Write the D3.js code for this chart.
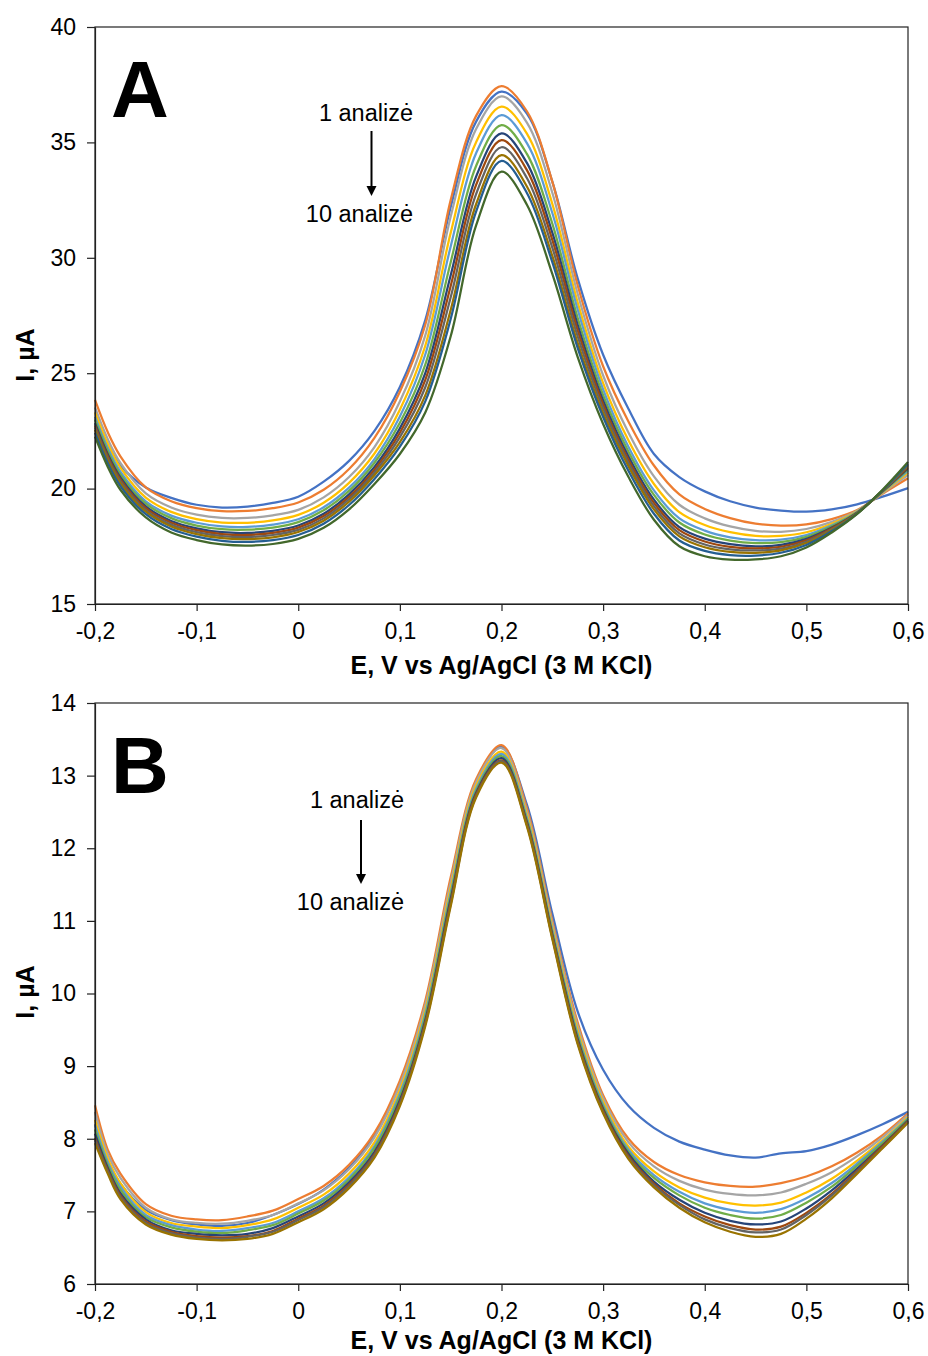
<!DOCTYPE html>
<html lang="lt">
<head>
<meta charset="utf-8">
<title>DPV analizės</title>
<script src="https://cdn.jsdelivr.net/npm/d3@7"></script>
<style>
  body { margin: 0; background: #fff; }
  text { font-family: "Liberation Sans", Arial, sans-serif; fill: #000; }
</style>
</head>
<body>
<svg id="chart" width="928" height="1356"></svg>
<script>
// potencialas, V
const potential = [-0.2, -0.1875, -0.175, -0.15, -0.125, -0.1, -0.075, -0.05, -0.025, 0,
  0.025, 0.05, 0.075, 0.1, 0.125, 0.15, 0.175, 0.2, 0.225, 0.25, 0.275, 0.3, 0.325,
  0.35, 0.375, 0.4, 0.425, 0.45, 0.475, 0.5, 0.525, 0.55, 0.575, 0.6];

// A: srove, uA
const a1  = [23.0, 21.9, 21.0, 20.05, 19.6, 19.3, 19.18, 19.22, 19.38, 19.65, 20.3, 21.2, 22.5, 24.4, 27.3, 32.2, 35.9, 37.2, 36.25, 33.3, 29.1, 25.8, 23.45, 21.5, 20.5, 19.88, 19.45, 19.18, 19.05, 19.0, 19.1, 19.32, 19.65, 20.02];
const a2  = [23.84, 22.45, 21.4, 20.05, 19.45, 19.15, 19.02, 19.03, 19.15, 19.4, 19.95, 20.85, 22.2, 24.2, 27.1, 32.5, 36.15, 37.44, 36.35, 33.3, 28.8, 25.3, 22.9, 21.0, 19.75, 19.12, 18.72, 18.48, 18.4, 18.45, 18.68, 19.07, 19.78, 20.45];
const a3  = [23.52, 22.15, 21.11, 19.79, 19.18, 18.87, 18.73, 18.73, 18.84, 19.08, 19.62, 20.5, 21.8, 23.77, 26.64, 31.79, 35.58, 36.99, 35.86, 32.82, 28.43, 24.9, 22.42, 20.53, 19.3, 18.71, 18.36, 18.17, 18.13, 18.25, 18.56, 19.04, 19.81, 20.59];
const a4  = [23.3, 21.94, 20.91, 19.61, 18.99, 18.68, 18.53, 18.52, 18.62, 18.86, 19.39, 20.25, 21.52, 23.42, 26.19, 31.08, 35.01, 36.55, 35.38, 32.34, 28.06, 24.57, 22.08, 20.2, 18.98, 18.42, 18.11, 17.95, 17.95, 18.11, 18.48, 19.01, 19.84, 20.69];
const a5  = [23.11, 21.76, 20.73, 19.45, 18.83, 18.52, 18.36, 18.34, 18.44, 18.67, 19.19, 20.04, 21.28, 23.12, 25.81, 30.49, 34.53, 36.18, 34.97, 31.94, 27.75, 24.3, 21.8, 19.92, 18.71, 18.18, 17.89, 17.77, 17.79, 17.99, 18.41, 18.99, 19.86, 20.77];
const a6  = [22.98, 21.64, 20.62, 19.35, 18.72, 18.4, 18.24, 18.22, 18.31, 18.55, 19.06, 19.9, 21.12, 22.85, 25.37, 29.81, 33.98, 35.75, 34.5, 31.48, 27.39, 24.05, 21.6, 19.73, 18.53, 18.01, 17.75, 17.64, 17.68, 17.91, 18.37, 18.98, 19.87, 20.83];
const a7  = [22.84, 21.5, 20.49, 19.23, 18.6, 18.28, 18.11, 18.08, 18.17, 18.4, 18.91, 19.75, 20.94, 22.61, 25.0, 29.24, 33.52, 35.39, 34.11, 31.09, 27.09, 23.82, 21.39, 19.52, 18.33, 17.83, 17.59, 17.5, 17.56, 17.82, 18.31, 18.96, 19.89, 20.89];
const a8  = [22.74, 21.41, 20.4, 19.15, 18.52, 18.2, 18.03, 17.99, 18.08, 18.31, 18.81, 19.64, 20.82, 22.42, 24.71, 28.78, 33.16, 35.1, 33.8, 30.78, 26.85, 23.65, 21.24, 19.38, 18.2, 17.71, 17.48, 17.41, 17.48, 17.76, 18.28, 18.95, 19.9, 20.93];
const a9  = [22.65, 21.32, 20.31, 19.07, 18.44, 18.11, 17.94, 17.9, 17.99, 18.21, 18.71, 19.54, 20.7, 22.23, 24.39, 28.29, 32.76, 34.79, 33.46, 30.44, 26.59, 23.47, 21.1, 19.24, 18.06, 17.58, 17.37, 17.32, 17.4, 17.7, 18.24, 18.94, 19.91, 20.98];
const a10 = [22.55, 21.23, 20.23, 19.0, 18.36, 18.03, 17.85, 17.81, 17.89, 18.12, 18.61, 19.43, 20.58, 22.01, 24.04, 27.74, 32.32, 34.45, 33.09, 30.08, 26.3, 23.27, 20.96, 19.1, 17.93, 17.46, 17.26, 17.22, 17.32, 17.64, 18.21, 18.93, 19.92, 21.02];
const a11 = [22.42, 21.11, 20.11, 18.89, 18.25, 17.92, 17.74, 17.69, 17.77, 17.99, 18.48, 19.29, 20.42, 21.82, 23.78, 27.35, 32.0, 34.2, 32.81, 29.81, 26.09, 23.1, 20.76, 18.91, 17.75, 17.3, 17.12, 17.1, 17.22, 17.56, 18.16, 18.92, 19.93, 21.07];
const a12 = [22.25, 20.95, 19.95, 18.75, 18.1, 17.77, 17.58, 17.53, 17.6, 17.82, 18.3, 19.1, 20.2, 21.5, 23.3, 26.6, 31.4, 33.73, 32.3, 29.3, 25.7, 22.8, 20.5, 18.65, 17.5, 17.07, 16.92, 16.93, 17.07, 17.45, 18.1, 18.9, 19.95, 21.15];

// B: srove, uA
const b1  = [8.2, 7.7, 7.38, 7.02, 6.88, 6.82, 6.8, 6.84, 6.95, 7.1, 7.3, 7.6, 8.05, 8.75, 9.85, 11.5, 12.9, 13.4, 12.6, 11.1, 9.75, 8.95, 8.45, 8.15, 7.96, 7.85, 7.77, 7.74, 7.8, 7.83, 7.92, 8.05, 8.2, 8.37];
const b2  = [8.46, 7.85, 7.52, 7.1, 6.94, 6.89, 6.88, 6.93, 7.01, 7.17, 7.35, 7.64, 8.08, 8.8, 9.9, 11.6, 12.95, 13.42, 12.55, 11.0, 9.6, 8.6, 8.0, 7.68, 7.5, 7.4, 7.35, 7.34, 7.39, 7.48, 7.62, 7.81, 8.05, 8.35];
const b3  = [8.37, 7.79, 7.46, 7.05, 6.89, 6.84, 6.83, 6.87, 6.95, 7.11, 7.29, 7.58, 8.02, 8.74, 9.84, 11.53, 12.91, 13.38, 12.5, 10.96, 9.55, 8.56, 7.95, 7.62, 7.42, 7.3, 7.24, 7.22, 7.26, 7.38, 7.54, 7.76, 8.02, 8.33];
const b4  = [8.26, 7.73, 7.39, 6.99, 6.84, 6.79, 6.77, 6.81, 6.89, 7.05, 7.23, 7.52, 7.95, 8.67, 9.77, 11.45, 12.86, 13.33, 12.46, 10.91, 9.49, 8.51, 7.89, 7.55, 7.33, 7.19, 7.11, 7.08, 7.12, 7.26, 7.45, 7.7, 7.98, 8.3];
const b5  = [8.19, 7.68, 7.34, 6.95, 6.81, 6.75, 6.73, 6.77, 6.84, 7.0, 7.18, 7.47, 7.9, 8.62, 9.72, 11.39, 12.82, 13.3, 12.42, 10.87, 9.44, 8.47, 7.85, 7.5, 7.27, 7.11, 7.02, 6.98, 7.03, 7.18, 7.39, 7.66, 7.96, 8.28];
const b6  = [8.13, 7.64, 7.3, 6.92, 6.78, 6.72, 6.7, 6.74, 6.81, 6.97, 7.15, 7.44, 7.87, 8.58, 9.68, 11.35, 12.79, 13.27, 12.39, 10.84, 9.41, 8.44, 7.82, 7.46, 7.22, 7.05, 6.95, 6.9, 6.95, 7.12, 7.34, 7.63, 7.94, 8.27];
const b7  = [8.07, 7.6, 7.25, 6.89, 6.74, 6.69, 6.67, 6.69, 6.77, 6.93, 7.11, 7.4, 7.82, 8.53, 9.63, 11.3, 12.76, 13.24, 12.36, 10.81, 9.37, 8.41, 7.79, 7.41, 7.16, 6.98, 6.87, 6.82, 6.86, 7.04, 7.29, 7.59, 7.91, 8.25];
const b8  = [8.01, 7.57, 7.22, 6.86, 6.72, 6.66, 6.64, 6.66, 6.73, 6.9, 7.08, 7.37, 7.79, 8.5, 9.6, 11.26, 12.74, 13.21, 12.34, 10.79, 9.34, 8.39, 7.76, 7.38, 7.11, 6.93, 6.81, 6.75, 6.79, 6.98, 7.24, 7.56, 7.9, 8.24];
const b9  = [7.98, 7.55, 7.2, 6.84, 6.7, 6.64, 6.62, 6.65, 6.72, 6.88, 7.06, 7.35, 7.77, 8.48, 9.58, 11.23, 12.72, 13.2, 12.32, 10.77, 9.32, 8.37, 7.74, 7.36, 7.09, 6.89, 6.77, 6.71, 6.75, 6.95, 7.22, 7.54, 7.88, 8.23];
const b10 = [7.94, 7.52, 7.17, 6.82, 6.68, 6.62, 6.6, 6.62, 6.69, 6.85, 7.03, 7.32, 7.74, 8.45, 9.55, 11.2, 12.7, 13.18, 12.3, 10.75, 9.3, 8.35, 7.72, 7.33, 7.05, 6.85, 6.72, 6.65, 6.69, 6.9, 7.18, 7.52, 7.87, 8.22];

const xTicks = [-0.2, -0.1, 0, 0.1, 0.2, 0.3, 0.4, 0.5, 0.6];
const yTicksA = [15, 20, 25, 30, 35, 40];
const yTicksB = [6, 7, 8, 9, 10, 11, 12, 13, 14];
const palette = ["#4472C4", "#ED7D31", "#A5A5A5", "#FFC000", "#5B9BD5", "#70AD47",
                 "#264478", "#9E480E", "#636363", "#997300", "#255E91", "#43682B"];

const xTitle = "E, V vs Ag/AgCl (3 M KCl)";
const yTitle = "I, µA";

const svg = d3.select("#chart");
const left = 95, right = 908;
const fmt = d => String(d).replace(".", ",");

function drawPanel(cfg) {
  const x = d3.scaleLinear().domain([-0.2, 0.6]).range([left, right]);
  const y = d3.scaleLinear().domain(cfg.domain).range([cfg.bottom, cfg.top]);
  const g = svg.append("g");

  // linijos
  const line = d3.line()
    .x((d, i) => x(potential[i]))
    .y(d => y(d))
    .curve(d3.curveCatmullRom.alpha(0.5));

  g.selectAll("path.curve")
    .data(cfg.series)
    .join("path")
    .attr("class", "curve")
    .attr("d", d => line(d))
    .attr("fill", "none")
    .attr("stroke", (d, i) => palette[i])
    .attr("stroke-width", 2.25)
    .attr("stroke-linejoin", "round");

  // remelis
  g.append("rect")
    .attr("x", left).attr("y", cfg.top)
    .attr("width", right - left).attr("height", cfg.bottom - cfg.top)
    .attr("fill", "none").attr("stroke", "#222").attr("stroke-width", 1.2);

  const xAxis = g.append("g")
    .attr("transform", `translate(0,${cfg.bottom})`)
    .call(d3.axisBottom(x).tickValues(xTicks).tickSize(7).tickSizeOuter(0).tickFormat(fmt));
  xAxis.selectAll("text").attr("y", 19).attr("dy", "0.71em").style("font-size", "23px");

  const yAxis = g.append("g")
    .attr("transform", `translate(${left},0)`)
    .call(d3.axisLeft(y).tickValues(cfg.ticks).tickSize(8).tickSizeOuter(0));
  yAxis.selectAll("text").attr("x", -19).style("font-size", "23px");

  g.selectAll(".domain, .tick line").attr("stroke", "#222").attr("stroke-width", 1.2);

  g.append("text")
    .attr("x", (left + right) / 2).attr("y", cfg.bottom + cfg.titleGap)
    .attr("text-anchor", "middle")
    .style("font-size", "25px").style("font-weight", "bold")
    .text(xTitle);

  g.append("text")
    .attr("transform", `translate(34,${cfg.titleY}) rotate(-90)`)
    .attr("text-anchor", "middle")
    .style("font-size", "25px").style("font-weight", "bold")
    .text(yTitle);

  g.append("text")
    .attr("x", 111).attr("y", cfg.top + 90)
    .style("font-size", "80px").style("font-weight", "bold")
    .text(cfg.letter);

  // anotacija
  const an = cfg.note;
  g.append("text").attr("x", an.x).attr("y", an.y1)
    .attr("text-anchor", "end").style("font-size", "23.5px").text("1 analizė");
  g.append("text").attr("x", an.x).attr("y", an.y2)
    .attr("text-anchor", "end").style("font-size", "23.5px").text("10 analizė");
  g.append("line")
    .attr("x1", an.ax).attr("x2", an.ax)
    .attr("y1", an.a1).attr("y2", an.a2 - 8)
    .attr("stroke", "#000").attr("stroke-width", 2);
  g.append("path")
    .attr("d", `M${an.ax - 5},${an.a2 - 10} L${an.ax + 5},${an.a2 - 10} L${an.ax},${an.a2} Z`)
    .attr("fill", "#000");
}

drawPanel({
  letter: "A", domain: [15, 40], ticks: yTicksA, top: 27, bottom: 604, titleY: 355, titleGap: 70,
  series: [a1, a2, a3, a4, a5, a6, a7, a8, a9, a10, a11, a12],
  note: { x: 413, y1: 121, y2: 222, ax: 371.5, a1: 131, a2: 196 }
});

drawPanel({
  letter: "B", domain: [6, 14], ticks: yTicksB, top: 703, bottom: 1284, titleY: 992, titleGap: 65,
  series: [b1, b2, b3, b4, b5, b6, b7, b8, b9, b10],
  note: { x: 404, y1: 808, y2: 910, ax: 361, a1: 820, a2: 884 }
});
</script>
</body>
</html>
